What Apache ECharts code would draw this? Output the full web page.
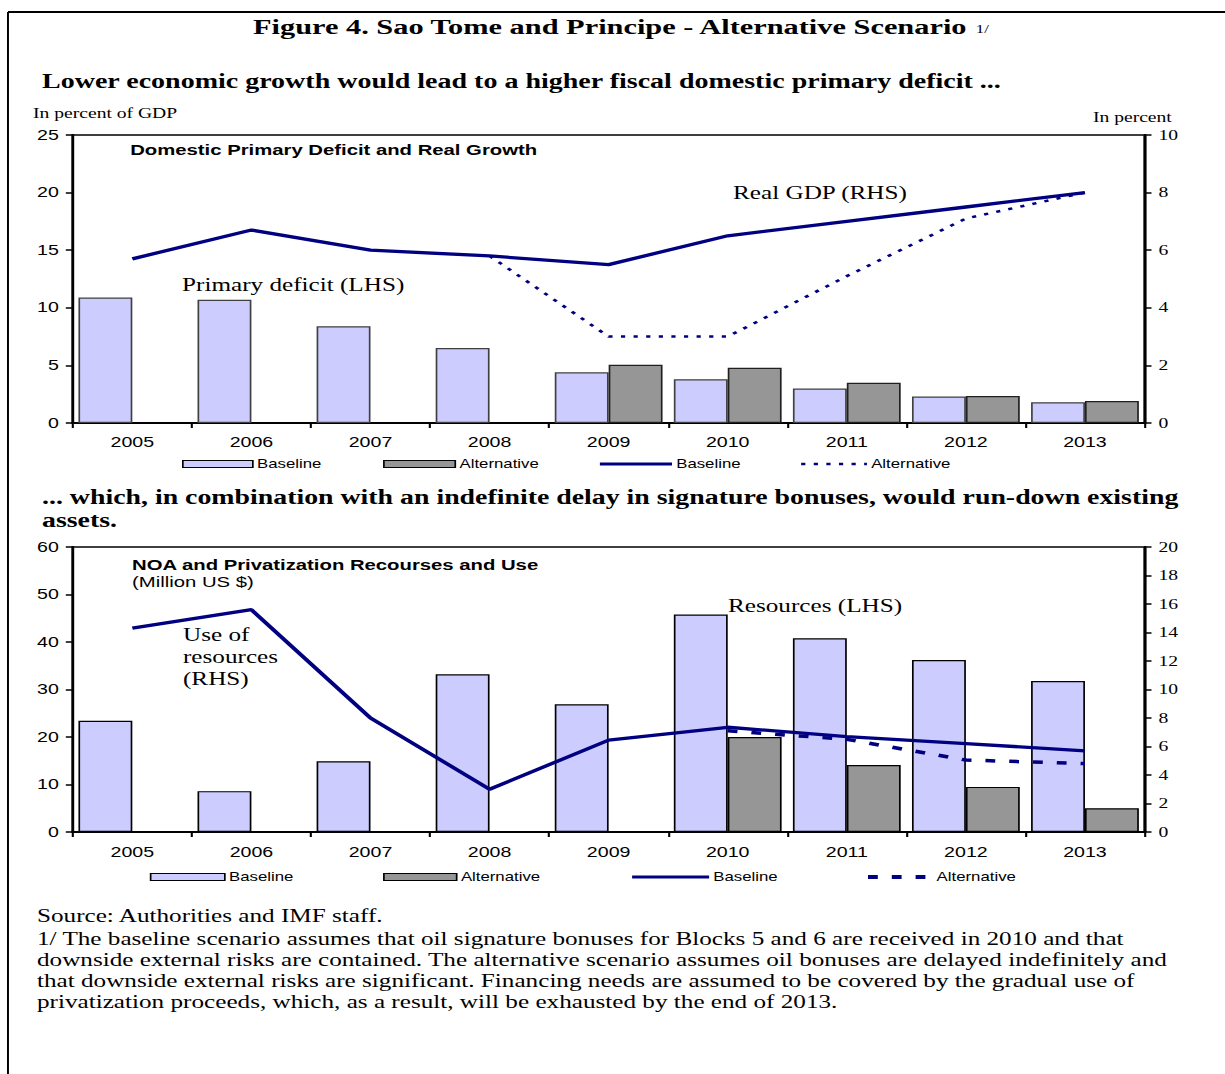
<!DOCTYPE html>
<html>
<head>
<meta charset="utf-8">
<script src="https://cdn.jsdelivr.net/npm/echarts@6/dist/echarts.min.js"></script>
<style>
  html, body { margin: 0; padding: 0; background: #fff; overflow: hidden; }
  /* the source figure is stretched horizontally, so draw narrow and scale */
  #chart { width: 875px; height: 1074px; transform: scaleX(1.4); transform-origin: 0 0; }
</style>
</head>
<body>
<div id="chart"></div>
<script>
const years = ['2005', '2006', '2007', '2008', '2009', '2010', '2011', '2012', '2013']

// top panel: domestic primary deficit (LHS) and real GDP growth (RHS)
const deficitBase = [10.9, 10.7, 8.4, 6.5, 4.4, 3.8, 3.0, 2.3, 1.8]
const deficitAlt = [null, null, null, null, 5.05, 4.8, 3.5, 2.35, 1.9]
const gdpBase = [5.7, 6.7, 6.0, 5.8, 5.5, 6.5, 7.0, 7.5, 8.0]
const gdpAlt = [null, null, null, 5.8, 3.0, 3.0, 5.1, 7.1, 8.0]

// bottom panel: resources (LHS) and use of resources (RHS), million US$
const resBase = [23.4, 8.6, 14.9, 33.2, 26.9, 45.8, 40.8, 36.2, 31.8]
const resAlt = [null, null, null, null, null, 20.0, 14.1, 9.5, 5.0]
const useBase = [14.3, 15.6, 8.0, 3.0, 6.45, 7.35, 6.7, 6.2, 5.7]
const useAlt = [null, null, null, null, null, 7.1, 6.5, 5.05, 4.8]

const leftTicks = [[0, 25, 5], [0, 60, 10]]
const rightTicks = [[0, 10, 2], [0, 20, 2]]

const SANS = '"Liberation Sans", Arial, sans-serif'
const SERIF = '"Liberation Serif", "Times New Roman", serif'
const NAVY = '#000080'
const LAVENDER = '#CCCCFF'
const GREY = '#969696'

const chart = echarts.init(document.getElementById('chart'), null, { renderer: 'svg' })

const grids = [
  { left: 52, right: 57.5, top: 135, height: 288 },
  { left: 52, right: 57.5, top: 547, height: 285 },
]

const xAxis = grids.map((g, i) => ({
  type: 'category',
  gridIndex: i,
  data: years,
  axisLine: { lineStyle: { color: '#000', width: 2 } },
  axisTick: { show: true, length: 5, lineStyle: { color: '#000', width: 1.5 } },
  axisLabel: { color: '#000', fontFamily: SANS, fontSize: 14, margin: i ? 13 : 12, interval: 0 },
  splitLine: { show: false },
}))

const yAxis = []
grids.forEach((g, i) => {
  yAxis.push({
    type: 'value', gridIndex: i, position: 'left',
    min: leftTicks[i][0], max: leftTicks[i][1], interval: leftTicks[i][2],
    axisLine: { show: true, lineStyle: { color: '#000', width: 2 } },
    axisTick: { show: true, length: 5, lineStyle: { color: '#000', width: 1.5 } },
    axisLabel: { color: '#000', fontFamily: SANS, fontSize: 14, margin: 10 },
    splitLine: { show: false },
  })
  yAxis.push({
    type: 'value', gridIndex: i, position: 'right',
    min: rightTicks[i][0], max: rightTicks[i][1], interval: rightTicks[i][2],
    axisLine: { show: true, lineStyle: { color: '#000', width: 2 } },
    axisTick: { show: true, length: 5, lineStyle: { color: '#000', width: 1.5 } },
    axisLabel: { color: '#000', fontFamily: SERIF, fontSize: 14, margin: 10 },
    splitLine: { show: false },
  })
})

const bar = (name, data, grid, color, border) => ({
  name, type: 'bar', data,
  xAxisIndex: grid, yAxisIndex: grid * 2,
  barWidth: 38.5, barGap: '0%',
  itemStyle: { color, borderColor: border, borderWidth: 1.2 },
  emphasis: { disabled: true },
})

const line = (name, data, grid, width, type) => ({
  name, type: 'line', data,
  xAxisIndex: grid, yAxisIndex: grid * 2 + 1,
  symbol: 'none', connectNulls: false,
  lineStyle: { color: NAVY, width, type },
  itemStyle: { color: NAVY },
  emphasis: { disabled: true },
  z: 5,
})

const series = [
  bar('Deficit Baseline', deficitBase, 0, LAVENDER, '#404040'),
  bar('Deficit Alternative', deficitAlt, 0, GREY, '#202020'),
  line('GDP Baseline', gdpBase, 0, 3.3, 'solid'),
  line('GDP Alternative', gdpAlt, 0, 2.5, [3, 6]),
  bar('Res Baseline', resBase, 1, LAVENDER, '#000'),
  bar('Res Alternative', resAlt, 1, GREY, '#000'),
  line('Use Baseline', useBase, 1, 3.3, 'solid'),
  line('Use Alternative', useAlt, 1, 3.5, [7, 10]),
]

const legendBase = (name, left, top, width) => ({
  data: [name], left, top, padding: 0,
  itemWidth: width, itemHeight: 7,
  selectedMode: false,
  formatter: n => n.split(' ')[1],
  textStyle: { color: '#000', fontFamily: SANS, fontSize: 12, padding: [0, 0, 0, -2] },
})

const legendBar = (name, left, top, width, color) => ({
  ...legendBase(name, left, top, width),
  icon: 'rect',
  itemStyle: { color, borderColor: '#000', borderWidth: 1.2 },
})

const legendLine = (name, left, top, width, lw) => ({
  ...legendBase(name, left, top, width),
  itemStyle: { opacity: 0 },
  lineStyle: { width: lw },
})

const legend = [
  legendBar('Deficit Baseline', 130, 458, 50, LAVENDER),
  legendBar('Deficit Alternative', 273.6, 458, 51, GREY),
  legendLine('GDP Baseline', 427, 458, 51.5, 3),
  legendLine('GDP Alternative', 571, 458, 47, 2.5),
  legendBar('Res Baseline', 107, 871, 53, LAVENDER),
  legendBar('Res Alternative', 273.6, 871, 52, GREY),
  legendLine('Use Baseline', 450, 871, 55, 3),
  legendLine('Use Alternative', 618, 871, 46, 4),
]

const txt = (text, x, y, font, align) => ({
  type: 'text', x, y, silent: true,
  style: { text, font, fill: '#000', textAlign: align || 'left', textVerticalAlign: 'middle' },
})

const notes = [
  'Source: Authorities and IMF staff.',
  '1/ The baseline scenario assumes that oil signature bonuses for Blocks 5 and 6 are received in 2010 and that',
  'downside external risks are contained. The alternative scenario assumes oil bonuses are delayed indefinitely and',
  'that downside external risks are significant. Financing needs are assumed to be covered by the gradual use of',
  'privatization proceeds, which, as a result, will be exhausted by the end of 2013.',
]
const noteY = [916, 939, 960, 981, 1002]

const graphic = [
  // frame
  { type: 'line', silent: true, shape: { x1: 5.7, y1: 12, x2: 875, y2: 12 }, style: { stroke: '#000', lineWidth: 2 } },
  { type: 'line', silent: true, shape: { x1: 5.7, y1: 12, x2: 5.7, y2: 1074 }, style: { stroke: '#000', lineWidth: 1.4 } },
  txt('Figure 4. Sao Tome and Principe - Alternative Scenario', 180.7, 27, 'bold 21.7px ' + SERIF),
  txt('1/', 697, 29, '12px ' + SERIF),
  txt('Lower economic growth would lead to a higher fiscal domestic primary deficit ...', 30, 81, 'bold 20px ' + SERIF),
  txt('In percent of GDP', 23.6, 113, '14px ' + SERIF),
  txt('In percent', 837, 117, '14px ' + SERIF, 'right'),
  txt('Domestic Primary Deficit and Real Growth', 93, 150, 'bold 14.5px ' + SANS),
  txt('Real GDP (RHS)', 523.6, 193, '18px ' + SERIF),
  txt('Primary deficit (LHS)', 130, 285, '18px ' + SERIF),
  txt('... which, in combination with an indefinite delay in signature bonuses, would run-down existing', 30, 497, 'bold 19.9px ' + SERIF),
  txt('assets.', 30, 520, 'bold 19.9px ' + SERIF),
  txt('NOA and Privatization Recourses and Use', 94.3, 565, 'bold 14.5px ' + SANS),
  txt('(Million US $)', 94.3, 582, '14.5px ' + SANS),
  txt('Resources (LHS)', 520, 606, '18px ' + SERIF),
  txt('Use of', 130.7, 635, '18px ' + SERIF),
  txt('resources', 130.7, 657, '18px ' + SERIF),
  txt('(RHS)', 130.7, 679, '18px ' + SERIF),
  ...notes.map((n, i) => txt(n, 26.4, noteY[i], '18px ' + SERIF)),
]

chart.setOption({
  animation: false,
  backgroundColor: '#fff',
  grid: grids.map(g => ({ ...g, show: true, borderColor: '#000', borderWidth: 1.5, backgroundColor: 'transparent', containLabel: false, outerBoundsMode: 'none' })),
  xAxis,
  yAxis,
  legend,
  series,
  graphic,
})
</script>
</body>
</html>
